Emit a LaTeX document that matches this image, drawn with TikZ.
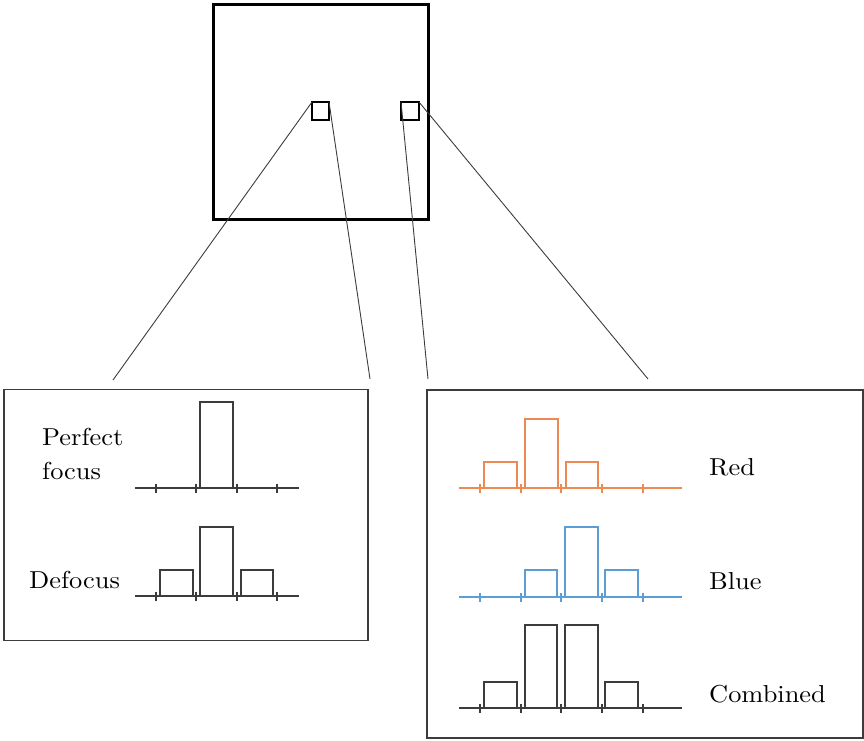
\documentclass[tikz,border=0pt]{standalone}
\usepackage{graphicx}
\definecolor{plotorange}{RGB}{237,137,82}
\definecolor{plotblue}{RGB}{92,157,214}
\definecolor{linegray}{RGB}{60,60,60}
\newcommand{\lbltext}[1]{\scalebox{2.64}[2.45]{\fontsize{10}{12}\selectfont #1}}
\begin{document}
\begin{tikzpicture}[x=1pt,y=-1pt,
  frame/.style={draw=black, line width=3pt, inner sep=0pt, outer sep=0pt},
  smallsq/.style={draw=black, line width=2.4pt, inner sep=0pt, outer sep=0pt},
  panel/.style={draw=linegray, line width=1.4pt, inner sep=0pt, outer sep=0pt},
  zoomline/.style={draw=linegray, line width=0.9pt},
  plotline/.style={line width=1.3pt},
  label/.style={inner sep=0pt, anchor=base west}
]
\useasboundingbox (0,0) rectangle (864,740);

% main square and zoom squares
\node[frame, minimum width=215pt, minimum height=215pt] (big) at (320.5,111.5) {};
\node[smallsq, minimum width=17pt, minimum height=18pt] (sqa) at (320.5,111) {};
\node[smallsq, minimum width=18pt, minimum height=18pt] (sqb) at (410,111) {};

% panels
\node[panel, minimum width=364pt, minimum height=251pt] (left) at (186,515) {};
\node[panel, minimum width=436pt, minimum height=348pt] (right) at (645,564) {};

% connector free ends
\coordinate (la) at (113,380);
\coordinate (lb) at (370,379);
\coordinate (ra) at (428,379);
\coordinate (rb) at (648,379);
\draw[zoomline] (sqa.north west) -- (la);
\draw[zoomline] (sqa.north east) -- (lb);
\draw[zoomline] (sqb.north west) -- (ra);
\draw[zoomline] (sqb.north east) -- (rb);

% ---- left panel ----
\begin{scope}[plotline, draw=linegray]
  % perfect focus
  \draw (135,488) -- (299,488);
  \foreach \t in {156,196,237,277} \draw (\t,483.5) -- (\t,492.5);
  \draw (200,488) -- (200,402) -- (233,402) -- (233,488);
  % defocus
  \draw (135,596) -- (299,596);
  \foreach \t in {156,196,237,277} \draw (\t,591.5) -- (\t,600.5);
  \draw (160,596) -- (160,570) -- (193,570) -- (193,596);
  \draw (200,596) -- (200,527) -- (233,527) -- (233,596);
  \draw (241,596) -- (241,570) -- (273,570) -- (273,596);
\end{scope}
\node[label] (tperf) at (42,445) {\lbltext{Perfect}};
\node[label] (tfocus) at (42,479) {\lbltext{focus}};
\node[label] (tdef) at (29,588) {\lbltext{Defocus}};

% ---- right panel ----
\begin{scope}[plotline, draw=plotorange]
  \draw (459,488) -- (682,488);
  \foreach \t in {480,521,561,602,643} \draw (\t,483.5) -- (\t,492.5);
  \draw (484,488) -- (484,462) -- (517,462) -- (517,488);
  \draw (525,488) -- (525,419) -- (558,419) -- (558,488);
  \draw (566,488) -- (566,462) -- (598,462) -- (598,488);
\end{scope}
\begin{scope}[plotline, draw=plotblue]
  \draw (459,597) -- (682,597);
  \foreach \t in {480,521,561,602,643} \draw (\t,592.5) -- (\t,601.5);
  \draw (525,597) -- (525,570) -- (557,570) -- (557,597);
  \draw (565,597) -- (565,527) -- (598,527) -- (598,597);
  \draw (605,597) -- (605,570) -- (638,570) -- (638,597);
\end{scope}
\begin{scope}[plotline, draw=linegray]
  \draw (459,708) -- (682,708);
  \foreach \t in {480,521,561,602,643} \draw (\t,703.5) -- (\t,712.5);
  \draw (484,708) -- (484,682) -- (517,682) -- (517,708);
  \draw (525,708) -- (525,625) -- (557,625) -- (557,708);
  \draw (565,708) -- (565,625) -- (598,625) -- (598,708);
  \draw (605,708) -- (605,682) -- (638,682) -- (638,708);
\end{scope}
\node[label] (tred) at (709,475) {\lbltext{Red}};
\node[label] (tblue) at (709,589) {\lbltext{Blue}};
\node[label] (tcomb) at (709,702) {\lbltext{Combined}};
\end{tikzpicture}
\end{document}
